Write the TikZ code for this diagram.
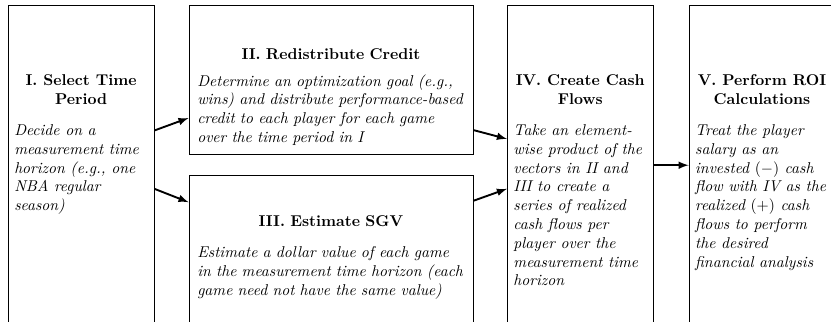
\documentclass[tikz,border=0pt]{standalone}
\usepackage{amsmath}
\usetikzlibrary{positioning, arrows, calc}

% title centred in bold, description in italics underneath (no hyphenation)
\newcommand{\stagetext}[3][8pt]{{\centering\bfseries #2\par}\vspace{#1}{\itshape\hyphenpenalty=10000\exhyphenpenalty=0 #3\par}}

\begin{document}
\begin{tikzpicture}[
    box/.style={draw, anchor=north, minimum height=9cm, inner sep=0pt},
    narrow/.style={box, minimum width=3.28cm},
    wide/.style={box, minimum width=6.38cm},
    txt/.style={inner sep=0pt, anchor=north},
    slim/.style={txt, text width=3cm, align=flush left},
    broad/.style={txt, text width=6cm, align=left},
    flow/.style={-latex, very thick}
]
    \useasboundingbox (0, 0) rectangle (18.66, -7.23);
    \clip (0, 0) rectangle (18.66, -7.23);

    % the five stages
    \node[narrow] (select) at (1.82, -0.11) {};
    \node[wide, minimum height=3.35cm] (credit) at (7.43, -0.11) {};
    \node[wide] (value) at (7.43, -3.93) {};
    \node[narrow] (cashflow) at (13.03, -0.11) {};
    \node[narrow] (roi) at (17.11, -0.11) {};

    \node[slim, below=44.3pt of select.north] (select-text)
        {\stagetext{I. Select Time Period}{Decide on a measurement time horizon (e.g., one NBA regular season)}};
    \node[broad, below=27.7pt of credit.north] (credit-text)
        {\stagetext[5pt]{II. Redistribute Credit}{Determine an optimization goal (e.g., wins) and distribute performance-based credit to each player for each game over the time period in I}};
    \node[broad, below=25.6pt of value.north] (value-text)
        {\stagetext{III. Estimate SGV}{Estimate a dollar value of each game in the measurement time horizon (each game need not have the same value)}};
    \node[slim, below=44.3pt of cashflow.north] (cashflow-text)
        {\stagetext{IV. Create Cash Flows}{Take an element-wise product of the vectors in II and III to create a series of realized cash flows per player over the measurement time horizon}};
    \node[slim, below=44.3pt of roi.north] (roi-text)
        {\stagetext{V. Perform ROI Calculations}{Treat the player salary as an invested $(-)$ cash flow with IV as the realized $(+)$ cash flows to perform the desired financial analysis}};

    \draw
        ([yshift=-2.82cm]select.north east) edge[flow] ([yshift=-2.54cm]credit.north west)
        ([yshift=-4.13cm]select.north east) edge[flow] ([yshift=-0.61cm]value.north west)
        ([yshift=-2.81cm]credit.north east) edge[flow] ([yshift=-3.01cm]cashflow.north west)
        ([yshift=-0.58cm]value.north east) edge[flow] ([yshift=-4.13cm]cashflow.north west)
        ([yshift=-3.60cm]cashflow.north east) edge[flow] ([yshift=-3.60cm]roi.north west)
        ;
\end{tikzpicture}
\end{document}
